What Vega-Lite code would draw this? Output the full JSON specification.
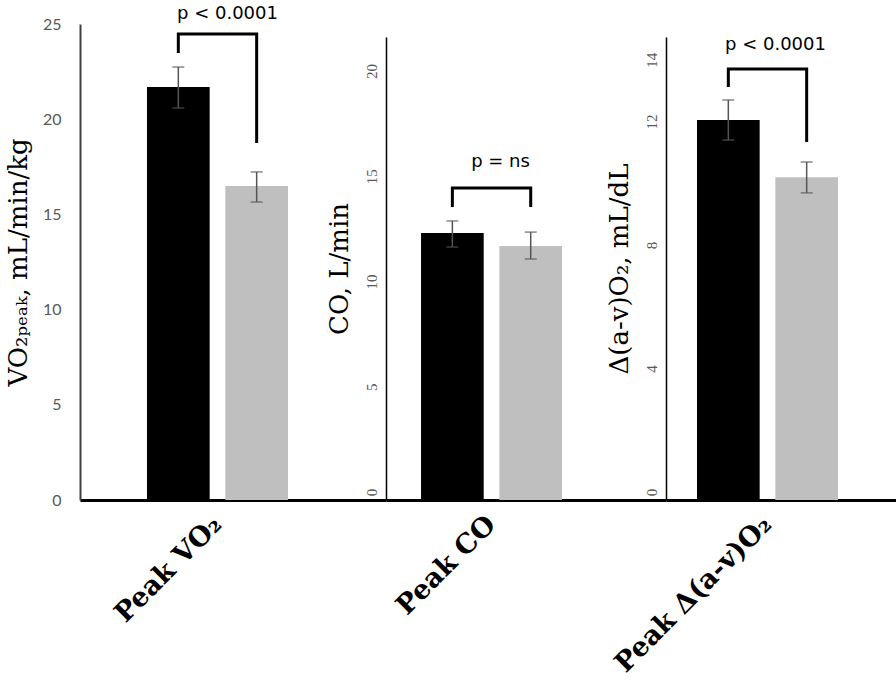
{
  "$schema": "https://vega.github.io/schema/vega-lite/v6.json",
  "background": "white",
  "padding": {"left": 5, "top": 5, "right": 0, "bottom": 0},
  "bounds": "flush",
  "spacing": 0,
  "config": {
    "view": {"stroke": null},
    "axisX": {
      "domainColor": "#000000", "domainWidth": 3, "ticks": false, "grid": false,
      "labelAngle": -45, "labelAlign": "right", "labelBaseline": "middle",
      "labelFont": "DejaVu Serif", "labelFontWeight": "bold", "labelFontSize": 27,
      "labelColor": "#000000", "labelPadding": 20, "labelLimit": 400, "title": null
    },
    "axisY": {
      "grid": false, "ticks": false, "tickSize": 0,
      "titleFont": "DejaVu Serif", "titleFontSize": 26, "titleFontWeight": "normal", "titleColor": "#000000"
    }
  },
  "datasets": {
    "bars": [
      {"panel": "VO2", "cat": "Peak VO₂", "group": "A", "mean": 21.69, "lo": 20.59, "hi": 22.74},
      {"panel": "VO2", "cat": "Peak VO₂", "group": "B", "mean": 16.49, "lo": 15.65, "hi": 17.23},
      {"panel": "CO", "cat": "Peak CO", "group": "A", "mean": 12.69, "lo": 12.02, "hi": 13.26},
      {"panel": "CO", "cat": "Peak CO", "group": "B", "mean": 12.07, "lo": 11.45, "hi": 12.73},
      {"panel": "AV", "cat": "Peak Δ(a-v)O₂", "group": "A", "mean": 12.31, "lo": 11.66, "hi": 12.96},
      {"panel": "AV", "cat": "Peak Δ(a-v)O₂", "group": "B", "mean": 10.46, "lo": 9.95, "hi": 10.95}
    ],
    "brackets": [
      {"panel": "VO2", "cat": "Peak VO₂", "group": "A", "ord": 1, "y": 23.48},
      {"panel": "VO2", "cat": "Peak VO₂", "group": "A", "ord": 2, "y": 24.47},
      {"panel": "VO2", "cat": "Peak VO₂", "group": "B", "ord": 3, "y": 24.47},
      {"panel": "VO2", "cat": "Peak VO₂", "group": "B", "ord": 4, "y": 18.75},
      {"panel": "CO", "cat": "Peak CO", "group": "A", "ord": 1, "y": 13.92},
      {"panel": "CO", "cat": "Peak CO", "group": "A", "ord": 2, "y": 14.83},
      {"panel": "CO", "cat": "Peak CO", "group": "B", "ord": 3, "y": 14.83},
      {"panel": "CO", "cat": "Peak CO", "group": "B", "ord": 4, "y": 13.92},
      {"panel": "AV", "cat": "Peak Δ(a-v)O₂", "group": "A", "ord": 1, "y": 13.38},
      {"panel": "AV", "cat": "Peak Δ(a-v)O₂", "group": "A", "ord": 2, "y": 13.96},
      {"panel": "AV", "cat": "Peak Δ(a-v)O₂", "group": "B", "ord": 3, "y": 13.96},
      {"panel": "AV", "cat": "Peak Δ(a-v)O₂", "group": "B", "ord": 4, "y": 11.6}
    ],
    "pvals": [
      {"panel": "VO2", "cat": "Peak VO₂", "label": "p < 0.0001", "y": 25.5},
      {"panel": "CO", "cat": "Peak CO", "label": "p = ns", "y": 16.06},
      {"panel": "AV", "cat": "Peak Δ(a-v)O₂", "label": "p < 0.0001", "y": 14.74}
    ]
  },
  "hconcat": [
    {
      "width": 306, "height": 476,
      "encoding": {
        "x": {"field": "cat", "type": "nominal", "scale": {"paddingInner": 0, "paddingOuter": 0.585, "align": 0.406}}
      },
      "layer": [
        {
          "data": {"name": "bars"}, "transform": [{"filter": "datum.panel === 'VO2'"}],
          "mark": {"type": "bar"},
          "encoding": {
            "xOffset": {"field": "group", "type": "nominal", "scale": {"paddingInner": 0.2, "paddingOuter": 0}},
            "y": {"field": "mean", "type": "quantitative", "scale": {"domain": [0, 25], "nice": false},
              "axis": {"title": "VO₂ₚₑₐₖ, mL/min/kg", "values": [0, 5, 10, 15, 20, 25], "labelFont": "Lato", "labelFontSize": 16, "labelColor": "#595959", "labelPadding": 19, "domainColor": "#404040", "domainWidth": 2, "titlePadding": 11}},
            "color": {"field": "group", "type": "nominal", "scale": {"domain": ["A", "B"], "range": ["#000000", "#bfbfbf"]}, "legend": null}
          }
        },
        {
          "data": {"name": "bars"}, "transform": [{"filter": "datum.panel === 'VO2'"}],
          "mark": {"type": "rule", "color": "#555555", "strokeWidth": 1.5},
          "encoding": {"xOffset": {"field": "group", "type": "nominal"}, "y": {"field": "lo", "type": "quantitative"}, "y2": {"field": "hi"}}
        },
        {
          "data": {"name": "bars"}, "transform": [{"filter": "datum.panel === 'VO2'"}],
          "mark": {"type": "tick", "color": "#555555", "size": 12, "thickness": 1.5},
          "encoding": {"xOffset": {"field": "group", "type": "nominal"}, "y": {"field": "lo", "type": "quantitative"}}
        },
        {
          "data": {"name": "bars"}, "transform": [{"filter": "datum.panel === 'VO2'"}],
          "mark": {"type": "tick", "color": "#555555", "size": 12, "thickness": 1.5},
          "encoding": {"xOffset": {"field": "group", "type": "nominal"}, "y": {"field": "hi", "type": "quantitative"}}
        },
        {
          "data": {"name": "brackets"}, "transform": [{"filter": "datum.panel === 'VO2'"}],
          "mark": {"type": "line", "color": "#000000", "strokeWidth": 3, "strokeJoin": "miter"},
          "encoding": {"xOffset": {"field": "group", "type": "nominal"}, "y": {"field": "y", "type": "quantitative"}, "order": {"field": "ord", "type": "quantitative"}}
        },
        {
          "data": {"name": "pvals"}, "transform": [{"filter": "datum.panel === 'VO2'"}],
          "mark": {"type": "text", "font": "DejaVu Sans", "fontSize": 18, "color": "#000000", "baseline": "middle", "align": "center", "dx": 10},
          "encoding": {"y": {"field": "y", "type": "quantitative"}, "text": {"field": "label"}}
        }
      ]
    },
    {
      "width": 280, "height": 476,
      "encoding": {
        "x": {"field": "cat", "type": "nominal", "scale": {"paddingInner": 0, "paddingOuter": 0.493, "align": 0.252}}
      },
      "layer": [
        {
          "data": {"name": "bars"}, "transform": [{"filter": "datum.panel === 'CO'"}],
          "mark": {"type": "bar"},
          "encoding": {
            "xOffset": {"field": "group", "type": "nominal", "scale": {"paddingInner": 0.2, "paddingOuter": 0}},
            "y": {"field": "mean", "type": "quantitative", "scale": {"domain": [0, 22], "nice": false, "range": [476, 13]},
              "axis": {"title": "CO, L/min", "values": [0, 5, 10, 15, 20], "labelFont": "Liberation Serif", "labelFontSize": 15, "labelColor": "#595959", "labelAngle": -90, "labelAlign": "center", "labelBaseline": "bottom", "labelPadding": 7, "labelOffset": -8, "domainColor": "#000000", "domainWidth": 1.5, "titlePadding": 12}},
            "color": {"field": "group", "type": "nominal", "scale": {"domain": ["A", "B"], "range": ["#000000", "#bfbfbf"]}, "legend": null}
          }
        },
        {
          "data": {"name": "bars"}, "transform": [{"filter": "datum.panel === 'CO'"}],
          "mark": {"type": "rule", "color": "#555555", "strokeWidth": 1.5},
          "encoding": {"xOffset": {"field": "group", "type": "nominal"}, "y": {"field": "lo", "type": "quantitative"}, "y2": {"field": "hi"}}
        },
        {
          "data": {"name": "bars"}, "transform": [{"filter": "datum.panel === 'CO'"}],
          "mark": {"type": "tick", "color": "#555555", "size": 12, "thickness": 1.5},
          "encoding": {"xOffset": {"field": "group", "type": "nominal"}, "y": {"field": "lo", "type": "quantitative"}}
        },
        {
          "data": {"name": "bars"}, "transform": [{"filter": "datum.panel === 'CO'"}],
          "mark": {"type": "tick", "color": "#555555", "size": 12, "thickness": 1.5},
          "encoding": {"xOffset": {"field": "group", "type": "nominal"}, "y": {"field": "hi", "type": "quantitative"}}
        },
        {
          "data": {"name": "brackets"}, "transform": [{"filter": "datum.panel === 'CO'"}],
          "mark": {"type": "line", "color": "#000000", "strokeWidth": 3, "strokeJoin": "miter"},
          "encoding": {"xOffset": {"field": "group", "type": "nominal"}, "y": {"field": "y", "type": "quantitative"}, "order": {"field": "ord", "type": "quantitative"}}
        },
        {
          "data": {"name": "pvals"}, "transform": [{"filter": "datum.panel === 'CO'"}],
          "mark": {"type": "text", "font": "DejaVu Sans", "fontSize": 18, "color": "#000000", "baseline": "middle", "align": "center", "dx": 9},
          "encoding": {"y": {"field": "y", "type": "quantitative"}, "text": {"field": "label"}}
        }
      ]
    },
    {
      "width": 233, "height": 476,
      "encoding": {
        "x": {"field": "cat", "type": "nominal", "scale": {"paddingInner": 0, "paddingOuter": 0.326, "align": 0.337}}
      },
      "layer": [
        {
          "data": {"name": "bars"}, "transform": [{"filter": "datum.panel === 'AV'"}],
          "mark": {"type": "bar"},
          "encoding": {
            "xOffset": {"field": "group", "type": "nominal", "scale": {"paddingInner": 0.2, "paddingOuter": 0}},
            "y": {"field": "mean", "type": "quantitative", "scale": {"domain": [0, 15], "nice": false, "range": [476, 13]},
              "axis": {"title": "Δ(a-v)O₂, mL/dL", "values": [0, 4, 8, 12, 14], "labelFont": "Liberation Serif", "labelFontSize": 15, "labelColor": "#595959", "labelAngle": -90, "labelAlign": "center", "labelBaseline": "bottom", "labelPadding": 7, "labelOffset": -8, "domainColor": "#000000", "domainWidth": 1.5, "titlePadding": 12}},
            "color": {"field": "group", "type": "nominal", "scale": {"domain": ["A", "B"], "range": ["#000000", "#bfbfbf"]}, "legend": null}
          }
        },
        {
          "data": {"name": "bars"}, "transform": [{"filter": "datum.panel === 'AV'"}],
          "mark": {"type": "rule", "color": "#555555", "strokeWidth": 1.5},
          "encoding": {"xOffset": {"field": "group", "type": "nominal"}, "y": {"field": "lo", "type": "quantitative"}, "y2": {"field": "hi"}}
        },
        {
          "data": {"name": "bars"}, "transform": [{"filter": "datum.panel === 'AV'"}],
          "mark": {"type": "tick", "color": "#555555", "size": 12, "thickness": 1.5},
          "encoding": {"xOffset": {"field": "group", "type": "nominal"}, "y": {"field": "lo", "type": "quantitative"}}
        },
        {
          "data": {"name": "bars"}, "transform": [{"filter": "datum.panel === 'AV'"}],
          "mark": {"type": "tick", "color": "#555555", "size": 12, "thickness": 1.5},
          "encoding": {"xOffset": {"field": "group", "type": "nominal"}, "y": {"field": "hi", "type": "quantitative"}}
        },
        {
          "data": {"name": "brackets"}, "transform": [{"filter": "datum.panel === 'AV'"}],
          "mark": {"type": "line", "color": "#000000", "strokeWidth": 3, "strokeJoin": "miter"},
          "encoding": {"xOffset": {"field": "group", "type": "nominal"}, "y": {"field": "y", "type": "quantitative"}, "order": {"field": "ord", "type": "quantitative"}}
        },
        {
          "data": {"name": "pvals"}, "transform": [{"filter": "datum.panel === 'AV'"}],
          "mark": {"type": "text", "font": "DejaVu Sans", "fontSize": 18, "color": "#000000", "baseline": "middle", "align": "center", "dx": 8},
          "encoding": {"y": {"field": "y", "type": "quantitative"}, "text": {"field": "label"}}
        }
      ]
    }
  ]
}
